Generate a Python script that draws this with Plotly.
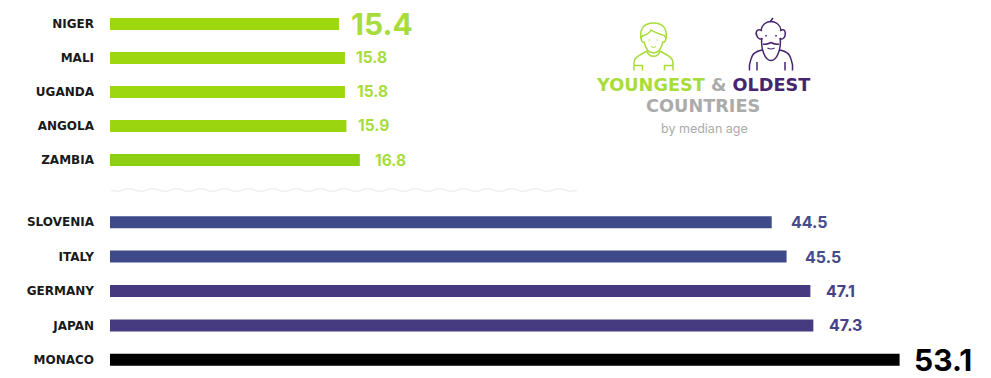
import plotly.graph_objects as go

young_countries = ["NIGER", "MALI", "UGANDA", "ANGOLA", "ZAMBIA"]
young_ages = [15.4, 15.8, 15.8, 15.9, 16.8]
old_countries = ["SLOVENIA", "ITALY", "GERMANY", "JAPAN", "MONACO"]
old_ages = [44.5, 45.5, 47.1, 47.3, 53.1]

W, H = 991, 378
L = 110
GREEN_T = "#A8DC3C"
PURPLE = "#46256E"
GREY = "#ABABAB"
FONT = "Inter"
WIDE = "DejaVu Sans"

young_colors = ["#9CD70F", "#9CD70F", "#9CD70F", "#9AD50F", "#8ACF14"]
old_colors = ["#3F4A8A", "#3F4A8A", "#46397F", "#463B80", "#000000"]
young_text_colors = [GREEN_T] * 5
old_text_colors = ["#454B8B", "#454B8B", "#47408A", "#47408A", "#000000"]
young_sizes = [30, 15.5, 15.5, 15.5, 15.5]
old_sizes = [16, 16, 16, 16, 30]
young_gap = [10, 9, 10, 10, 13]
old_gap = [17, 16, 14, 14, 12]

fig = go.Figure()
fig.add_bar(y=young_countries, x=young_ages, orientation="h", xaxis="x", yaxis="y",
            marker=dict(color=young_colors, line=dict(width=0)), width=0.35, hoverinfo="skip")
fig.add_bar(y=old_countries, x=old_ages, orientation="h", xaxis="x", yaxis="y2",
            marker=dict(color=old_colors, line=dict(width=0)), width=0.35, hoverinfo="skip")

annotations = []
for cats, vals, cols, sizes, gaps, yref in [
    (young_countries, young_ages, young_text_colors, young_sizes, young_gap, "y"),
    (old_countries, old_ages, old_text_colors, old_sizes, old_gap, "y2"),
]:
    for c, v, col, s, g in zip(cats, vals, cols, sizes, gaps):
        annotations.append(dict(x=v, y=c, xref="x", yref=yref, text=f"<b>{v}</b>", showarrow=False,
                                xanchor="left", yanchor="middle", xshift=g,
                                font=dict(family=FONT, size=s, color=col)))

def title(text, x, y, size, bold=True, family=WIDE):
    annotations.append(dict(x=x, y=y, xref="x3", yref="y3", text=f"<b>{text}</b>" if bold else text,
                            showarrow=False, xanchor="center", yanchor="middle",
                            font=dict(family=family, size=size, color=GREY)))

title(f"<span style='color:{GREEN_T}'>YOUNGEST</span> & <span style='color:{PURPLE}'>OLDEST</span>", 703, 85, 17.7)
title("COUNTRIES", 703, 106, 17.7)
title("by median age", 704.5, 128, 12.5, bold=False, family=FONT)

shapes = []
def draw(path, color, width=1.5):
    shapes.append(dict(type="path", xref="x3", yref="y3", path=path,
                       line=dict(color=color, width=width), layer="above"))

period = 23.9
x = 111
wave = f"M{x},190"
up = False
while x + period / 2 <= 580:
    nx = x + period / 2
    cy = 187.5 if up else 192.5
    wave += f" Q{x + period / 4:.1f},{cy} {nx:.1f},190"
    x = nx
    up = not up
draw(wave, "#E8E8E8", 1.2)

g = "#A8DC3C"
draw("M641,39 C639,28 645,23 653.5,23 C662,23 668,28 666,39", g)
draw("M642,36 C646,35 650,33 651,30 C655,33 661,34 665,36", g)
draw("M643,36 C640,36 641,43 644,42 C646,50 650,53 653.5,53 C657,53 661,50 663,42 C666,43 667,36 664,36", g)
draw("M647,51 L640,55 C636,57 634,59 634,63 L634,70.5", g)
draw("M660,51 L667,55 C671,57 673,59 673,63 L673,70.5", g)
draw("M647,51 C649,58 658,58 660,51", g)
draw("M634,65.5 L642.5,65.5 L642.5,70.5", g)
draw("M673,65.5 L664.5,65.5 L664.5,70.5", g)
draw("M651,46.5 Q653.5,48.5 656,46.5", g, 1)
for ex in (649.5, 657.5):
    draw(f"M{ex},39.5 L{ex},40.5", g, 1.5)

p = PURPLE
draw("M761,30 C762,24 767,21.5 771,21.5 C775,21.5 780,24 781,30", p)
draw("M770,22 L773,18", p)
draw("M762,31 C757,27 755,33 757,36 C758,39 761,40 762,38", p)
draw("M780,31 C785,27 786,33 785,36 C784,39 781,40 780,38", p)
draw("M762,38 C761,42 762,50 764,54 C766,59 769,60.5 771,60.5 C773,60.5 776,59 778,54 C780,50 781,42 780,38", p)
draw("M763,44 C766,45 768,44 771,42.5 C774,44 776,45 779,44", p)
draw("M767.5,48 Q771,50 774.5,48", p, 1.2)
for ex in (766, 776):
    draw(f"M{ex},35 L{ex},36.5", p, 1.6)
draw("M762,50 C757,51 752,54 751,59 C749.5,63 749,67 749.5,70.5", p)
draw("M780,50 C785,51 790,54 791,59 C792.5,63 793,67 792.5,70.5", p)
draw("M757,62 L757,70.5", p)
draw("M785,62 L785,70.5", p)

axis_common = dict(type="category", autorange=False, range=[4.5, -0.5], showgrid=False, zeroline=False,
                   showline=False, ticks="", ticklabelstandoff=15,
                   tickfont=dict(family=WIDE, size=12, color="#1A1A1A", weight=700))

fig.update_layout(
    width=W, height=H, autosize=False,
    margin=dict(l=L, r=0, t=0, b=0),
    paper_bgcolor="white", plot_bgcolor="rgba(0,0,0,0)",
    showlegend=False, barmode="overlay",
    xaxis=dict(range=[0, (W - L) / 14.87], visible=False, domain=[0, 1], anchor="y2"),
    yaxis=dict(domain=[1 - 177 / H, 1 - 7 / H], anchor="x", **axis_common),
    yaxis2=dict(domain=[1 - 377 / H, 1 - 205 / H], anchor="x", **axis_common),
    xaxis3=dict(range=[L, W], visible=False, domain=[0, 1], anchor="y3", fixedrange=True),
    yaxis3=dict(range=[H, 0], visible=False, domain=[0, 1], anchor="x3", fixedrange=True),
    annotations=annotations,
    shapes=shapes,
)
fig.add_scatter(x=[L], y=[0], xaxis="x3", yaxis="y3", mode="markers", marker=dict(opacity=0),
                hoverinfo="skip")
fig.write_html("out.html", config=dict(displayModeBar=False),
               post_script="document.body.style.margin='0';document.body.style.overflow='hidden';")
